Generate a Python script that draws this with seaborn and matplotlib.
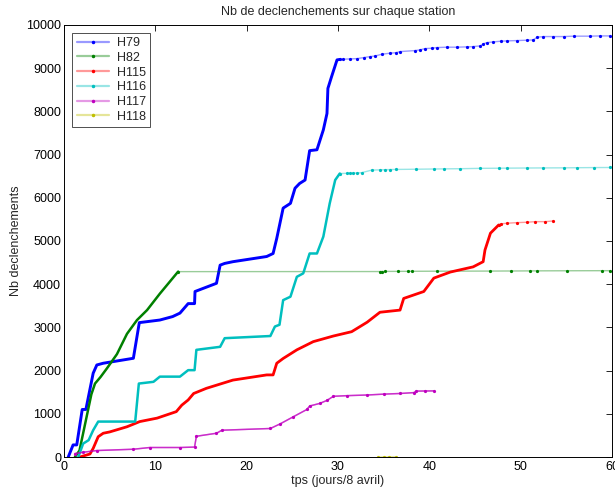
import matplotlib
matplotlib.use("Agg")
import matplotlib.pyplot as plt
from matplotlib.lines import Line2D
import pandas as pd
import seaborn as sns

# ------------------------------------------------------------
# Data (t in days since 8 April, cumulative count)
# TAIL_* = index where the sparse (thin, dotted) part of the curve begins
# ------------------------------------------------------------
H79_T = [0.47, 1.0, 1.4, 2.0, 2.4, 3.2, 3.6, 4.3, 7.6, 8.25, 10.5, 11.9, 12.7, 13.6, 14.3, 14.35,
         16.7, 17.1, 17.6, 18.5, 22.2, 22.9, 23.3, 24.0, 24.8, 25.3, 25.8, 26.4, 26.9, 27.7, 28.4,
         28.8, 28.9, 29.3, 29.9, 30.2,
         30.6, 31.3, 32.1, 32.8, 33.5, 34.1, 34.8, 35.7, 36.4, 36.8, 38.4, 39.0, 39.5, 40.3, 40.8,
         41.9, 43.0, 44.1, 44.8, 45.6, 45.9, 46.3, 47.0, 47.8, 48.5, 49.6, 50.7, 51.4, 51.8, 52.5,
         53.6, 54.7, 55.8, 57.6, 58.7, 59.8]
H79_N = [0, 280, 280, 1100, 1100, 1940, 2130, 2170, 2285, 3110, 3170, 3250, 3330, 3550, 3550, 3830,
         4020, 4440, 4480, 4520, 4640, 4710, 5060, 5760, 5870, 6220, 6330, 6410, 7090, 7110, 7570,
         7950, 8530, 8800, 9190, 9200,
         9206, 9213, 9220, 9243, 9266, 9282, 9321, 9345, 9359, 9382, 9405, 9421, 9451, 9461, 9475,
         9484, 9484, 9491, 9498, 9514, 9560, 9590, 9606, 9622, 9630, 9637, 9646, 9653, 9715, 9730,
         9730, 9730, 9739, 9739, 9745, 9745]
TAIL_H79 = 35

H82_T = [1.2, 1.7, 2.5, 3.0, 3.4, 4.0, 4.7, 5.8, 6.9, 8.0, 9.1, 10.5, 11.6, 12.5,
         34.6, 34.8, 35.2, 36.6, 37.7, 38.1, 40.8, 46.7, 49.0, 51.0, 51.8, 55.1, 58.9, 59.8]
H82_N = [0, 150, 950, 1450, 1700, 1850, 2050, 2380, 2850, 3170, 3400, 3780, 4060, 4290,
         4292, 4293, 4295, 4296, 4297, 4298, 4300, 4303, 4305, 4307, 4308, 4310, 4312, 4312]
TAIL_H82 = 13

H115_T = [1.75, 2.85, 3.2, 3.75, 4.3, 5.0, 6.9, 8.3, 10.2, 12.3, 12.9, 13.6, 14.2, 15.6, 18.5,
          22.2, 22.9, 23.3, 24.0, 25.5, 27.3, 29.5, 31.5, 33.2, 34.6, 36.8, 37.2, 39.4, 40.5,
          42.3, 44.8, 45.9, 46.1, 46.7, 47.6,
          47.8, 48.5, 49.6, 50.7, 51.6, 52.7, 53.6]
H115_N = [0, 70, 200, 470, 550, 580, 700, 820, 900, 1050, 1200, 1320, 1470, 1590, 1780,
          1900, 1900, 2170, 2280, 2480, 2670, 2800, 2900, 3120, 3350, 3400, 3670, 3830, 4140,
          4280, 4400, 4520, 4790, 5180, 5370,
          5394, 5410, 5424, 5433, 5447, 5447, 5463]
TAIL_H115 = 34

H116_T = [1.57, 2.1, 2.7, 3.2, 3.75, 7.8, 8.2, 9.8, 10.5, 12.7, 13.6, 14.3, 14.5, 17.1, 17.6,
          22.6, 23.1, 23.6, 24.0, 24.8, 25.5, 26.2, 26.9, 27.7, 28.4, 29.1, 29.7, 30.2,
          31.0, 31.3, 31.7, 32.1, 32.6, 33.7, 34.6, 35.2, 35.7, 36.4, 38.6, 40.5, 41.6, 43.4,
          45.6, 47.6, 48.5, 50.7, 52.5, 54.7, 56.2, 58.0, 59.8]
H116_N = [0, 310, 390, 620, 820, 820, 1700, 1740, 1860, 1860, 2010, 2010, 2480, 2550, 2750,
          2800, 3020, 3060, 3630, 3710, 4170, 4250, 4710, 4710, 5100, 5870, 6410, 6560,
          6565, 6568, 6570, 6572, 6580, 6640, 6645, 6650, 6652, 6655, 6660, 6665, 6668, 6672,
          6680, 6683, 6685, 6688, 6690, 6692, 6695, 6698, 6700]
TAIL_H116 = 27

H117_T = [1.2, 2.1, 3.6, 7.6, 9.4, 12.7, 14.3, 14.5, 16.7, 17.3, 22.6, 23.7, 25.1, 26.6, 26.9,
          28.0, 28.8, 29.5, 31.0, 33.2, 35.0, 36.8, 38.3, 38.6, 39.5, 40.5]
H117_N = [80, 110, 150, 180, 220, 220, 230, 480, 550, 620, 660, 770, 930, 1100, 1180,
          1240, 1310, 1405, 1420, 1435, 1455, 1470, 1490, 1525, 1528, 1530]
TAIL_H117 = 0

H118_T = [34.4, 35.0, 35.6, 36.4]
H118_N = [2, 4, 5, 6]
TAIL_H118 = 0

STATIONS = ["H79", "H82", "H115", "H116", "H117", "H118"]
SERIES = {
    "H79": (H79_T, H79_N, TAIL_H79),
    "H82": (H82_T, H82_N, TAIL_H82),
    "H115": (H115_T, H115_N, TAIL_H115),
    "H116": (H116_T, H116_N, TAIL_H116),
    "H117": (H117_T, H117_N, TAIL_H117),
    "H118": (H118_T, H118_N, TAIL_H118),
}
COLORS = {
    "H79": (0.0, 0.0, 1.0),
    "H82": (0.0, 0.5, 0.0),
    "H115": (1.0, 0.0, 0.0),
    "H116": (0.0, 0.75, 0.75),
    "H117": (0.75, 0.0, 0.75),
    "H118": (0.75, 0.75, 0.0),
}
THICK = {"H79": 2.1, "H82": 1.8, "H115": 2.0, "H116": 1.8, "H117": 1.1, "H118": 1.0}

sns.set_theme(style="white")
plt.rcParams["font.family"] = ["Liberation Sans", "DejaVu Sans"]

fig = plt.figure(figsize=(6.15, 4.88), dpi=100)
ax = fig.add_axes([0.104, 0.0635, 0.891, 0.8855])

for name in STATIONS:
    t, n, tail = SERIES[name]
    df = pd.DataFrame({"t": t, "n": n})
    col = COLORS[name]
    if tail > 0:
        dense = df.iloc[: tail + 1]
        sns.lineplot(data=dense, x="t", y="n", ax=ax, color=col, linewidth=THICK[name],
                     sort=False, estimator=None, legend=False, solid_capstyle="round")
        sparse = df.iloc[tail:]
    else:
        sparse = df
    # thin light connecting line + darker dots for the sparse part
    sns.lineplot(data=sparse, x="t", y="n", ax=ax, color=col, linewidth=1.0, alpha=0.4,
                 sort=False, estimator=None, legend=False)
    ax.plot(sparse["t"], sparse["n"], linestyle="none", marker=".", markersize=2.6, color=col)
    if tail == 0 and name == "H117":
        sns.lineplot(data=sparse, x="t", y="n", ax=ax, color=col, linewidth=THICK[name],
                     sort=False, estimator=None, legend=False, alpha=0.7)

ax.set_xlim(0, 60)
ax.set_ylim(0, 10000)
ax.set_xticks(range(0, 61, 10))
ax.set_yticks(range(0, 10001, 1000))
ax.tick_params(direction="in", top=True, right=True, length=4, width=0.6,
               labelsize=9, colors="black", pad=3)
ax.tick_params(axis="y", pad=2)
for sp in ax.spines.values():
    sp.set_color("black")
    sp.set_linewidth(0.7)

ax.set_title("Nb de declenchements sur chaque station", fontsize=9, pad=7)
ax.set_xlabel("tps (jours/8 avril)", fontsize=9, labelpad=1)
ax.set_ylabel("Nb declenchements", fontsize=9, labelpad=3)

handles = [
    Line2D([], [], color=COLORS[s] + (0.4,), linewidth=1.6, marker=".", markersize=3,
           markerfacecolor=COLORS[s], markeredgecolor=COLORS[s])
    for s in STATIONS
]
leg = ax.legend(handles, STATIONS, loc="upper left", bbox_to_anchor=(0.015, 0.982),
                borderaxespad=0, fontsize=9, frameon=True, fancybox=False, edgecolor="black",
                handlelength=2.6, labelspacing=0.22, borderpad=0.35, handletextpad=0.6)
leg.get_frame().set_linewidth(0.6)

fig.savefig("out.png", dpi=100, facecolor="white")
